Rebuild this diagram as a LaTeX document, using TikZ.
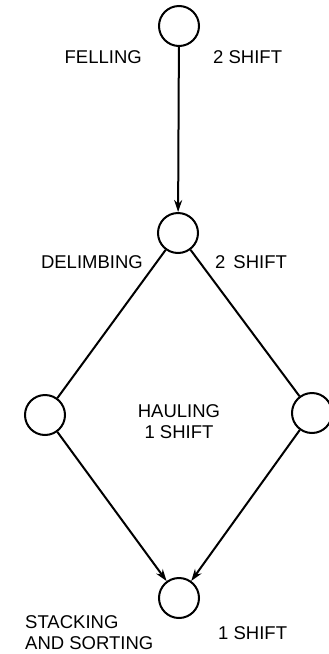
\documentclass[tikz,border=0pt]{standalone}
\usepackage{fontspec}
\setmainfont{Liberation Sans}
\usetikzlibrary{arrows.meta}
\begin{document}
\begin{tikzpicture}[x=1pt,y=-1pt,
  stage/.style={circle, draw, line width=2pt, minimum size=40pt, inner sep=0pt},
  lbl/.style={font=\fontsize{18.5}{21}\selectfont, inner sep=0pt},
  conn/.style={line width=2pt},
  arr/.style={conn, -{Stealth[length=12pt,width=8pt]}}]
\useasboundingbox (0,0) rectangle (329,654);
\node[stage] (fell) at (179,26) {};
\node[stage] (delim) at (178,233) {};
\node[stage] (left) at (45,415) {};
\node[stage] (right) at (312,413) {};
\node[stage] (stack) at (179,598) {};
\draw[arr] (fell) -- (delim);
\draw[conn] (delim) -- (left);
\draw[conn] (delim) -- (right);
\draw[arr] (left) -- (stack);
\draw[arr] (right) -- (stack);
\node[lbl, anchor=east] (tfell) at (142,57) {FELLING};
\node[lbl, anchor=west] (sfell) at (213,57) {2 SHIFT};
\node[lbl, anchor=east] (tdelim) at (143,262) {DELIMBING};
\node[lbl, anchor=west] (sdelim) at (215,262) {2\hspace{8pt}SHIFT};
\node[lbl, align=center] (thaul) at (179,422) {HAULING\\1 SHIFT};
\node[lbl, align=left, anchor=west] (tstack) at (25,633) {STACKING\\AND SORTING};
\node[lbl, anchor=west] (sstack) at (218,633) {1 SHIFT};
\end{tikzpicture}
\end{document}
